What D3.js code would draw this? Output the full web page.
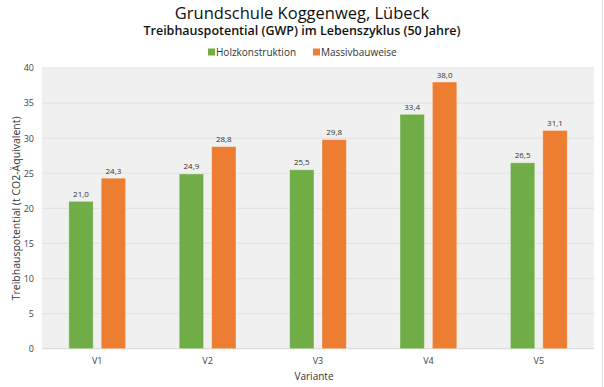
<!DOCTYPE html>
<html>
<head>
<meta charset="utf-8">
<script src="https://cdn.jsdelivr.net/npm/d3@7"></script>
<style>
  body { margin: 0; background: #fff; }
  svg { display: block; font-family: "Open Sans", sans-serif; }
</style>
</head>
<body>
<div id="chart"></div>
<script>
// data
var varianten = ["V1", "V2", "V3", "V4", "V5"];
var serien = ["Holzkonstruktion", "Massivbauweise"];
var holz = [21.0, 24.9, 25.5, 33.4, 26.5];
var massiv = [24.3, 28.8, 29.8, 38.0, 31.1];
var yTicks = [0, 5, 10, 15, 20, 25, 30, 35, 40];
var farben = ["#70ad47", "#ed7d31"];

var width = 604, height = 387;
var plot = { left: 42, right: 594, top: 68, bottom: 348.7 };

var svg = d3.select("#chart")
    .append("svg")
    .attr("width", width)
    .attr("height", height);

// thin border line on the right edge
svg.append("line")
    .attr("x1", 602.5).attr("x2", 602.5)
    .attr("y1", 0).attr("y2", height)
    .attr("stroke", "#e2e2e2")
    .attr("stroke-width", 1);

// titles
svg.append("text")
    .attr("x", 302).attr("y", 19)
    .attr("text-anchor", "middle")
    .style("font-size", "16.5px")
    .attr("fill", "#111")
    .text("Grundschule Koggenweg, Lübeck");

svg.append("text")
    .attr("x", 302).attr("y", 35)
    .attr("text-anchor", "middle")
    .style("font-size", "12.5px")
    .style("font-weight", 600)
    .attr("fill", "#111")
    .text("Treibhauspotential (GWP) im Lebenszyklus (50 Jahre)");

// scales
var x = d3.scaleBand()
    .domain(varianten)
    .range([plot.left, plot.right])
    .paddingInner(0);

var xInner = d3.scaleBand()
    .domain(serien)
    .range([26.8, x.bandwidth() - 26.8])
    .paddingInner(0.247);

var y = d3.scaleLinear()
    .domain([0, 40])
    .range([plot.bottom, plot.top]);

// plot background
svg.append("rect")
    .attr("x", plot.left)
    .attr("y", plot.top)
    .attr("width", plot.right - plot.left)
    .attr("height", plot.bottom - plot.top)
    .attr("fill", "#f0f0f0");

// grid lines
svg.append("g")
    .selectAll("line")
    .data(yTicks)
    .enter()
    .append("line")
    .attr("x1", plot.left)
    .attr("x2", plot.right)
    .attr("y1", function (d) { return y(d); })
    .attr("y2", function (d) { return y(d); })
    .attr("stroke", function (d) { return d == 0 ? "#dcdcdc" : "#e3e3e3"; })
    .attr("stroke-width", 1.2);

// y axis labels
var yAxis = svg.append("g")
    .attr("transform", "translate(" + plot.left + ",0)")
    .call(d3.axisLeft(y).tickValues(yTicks).tickSize(0).tickPadding(8));
yAxis.select(".domain").remove();
yAxis.selectAll("text")
    .style("font-family", "'Open Sans', sans-serif")
    .style("font-size", "9px")
    .attr("fill", "#444");

// x axis labels
var xAxis = svg.append("g")
    .attr("transform", "translate(0," + plot.bottom + ")")
    .call(d3.axisBottom(x).tickSize(0).tickPadding(9));
xAxis.select(".domain").remove();
xAxis.selectAll("text")
    .style("font-family", "'Open Sans', sans-serif")
    .style("font-size", "9px")
    .attr("fill", "#444");

// axis titles
svg.append("text")
    .attr("x", (plot.left + plot.right) / 2 - 4)
    .attr("y", 380)
    .attr("text-anchor", "middle")
    .style("font-size", "10px")
    .attr("fill", "#333")
    .text("Variante");

svg.append("text")
    .attr("transform", "translate(19.5," + ((plot.top + plot.bottom) / 2) + ") rotate(-90)")
    .attr("text-anchor", "middle")
    .style("font-size", "10.5px")
    .attr("fill", "#333")
    .text("Treibhauspotential (t CO2-Äquivalent)");

// bars
var rows = varianten.map(function (v, i) {
    return { variante: v, werte: [holz[i], massiv[i]] };
});

var groups = svg.append("g")
    .selectAll("g")
    .data(rows)
    .enter()
    .append("g")
    .attr("transform", function (d) { return "translate(" + x(d.variante) + ",0)"; });

var bars = groups.selectAll("g")
    .data(function (d) {
        return serien.map(function (s, j) { return { serie: s, wert: d.werte[j], j: j }; });
    })
    .enter()
    .append("g");

bars.append("rect")
    .attr("x", function (d) { return xInner(d.serie); })
    .attr("y", function (d) { return y(d.wert); })
    .attr("width", xInner.bandwidth())
    .attr("height", function (d) { return y(0) - y(d.wert); })
    .attr("fill", function (d) { return farben[d.j]; })
    .attr("stroke", "rgba(255,255,255,0.35)")
    .attr("stroke-width", 1);

bars.append("text")
    .attr("x", function (d) { return xInner(d.serie) + xInner.bandwidth() / 2; })
    .attr("y", function (d) { return y(d.wert) - 4.5; })
    .attr("text-anchor", "middle")
    .style("font-size", "8px")
    .attr("fill", "#333")
    .text(function (d) { return d.wert.toFixed(1).replace(".", ","); });

// legend
var legendX = [208, 313];
var legend = svg.append("g");
serien.forEach(function (s, i) {
    legend.append("rect")
        .attr("x", legendX[i])
        .attr("y", 48.5)
        .attr("width", 7)
        .attr("height", 7)
        .attr("fill", farben[i]);
    legend.append("text")
        .attr("x", legendX[i] + 8)
        .attr("y", 55.5)
        .style("font-size", "10px")
        .attr("fill", "#333")
        .text(s);
});
</script>
</body>
</html>
